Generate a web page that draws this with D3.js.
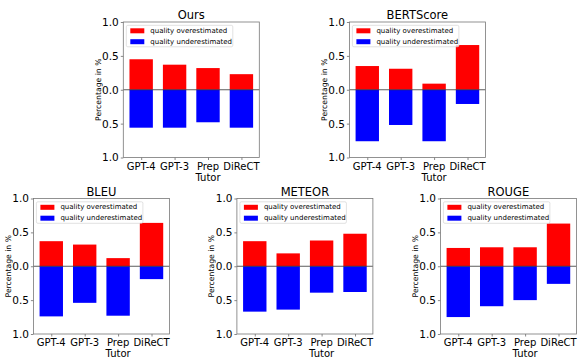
<!DOCTYPE html>
<html><head><meta charset="utf-8">
<script src="https://cdn.jsdelivr.net/npm/d3@7"></script>
<style>
html,body{margin:0;padding:0;background:#fff;}
svg{display:block;font-family:"DejaVu Sans",sans-serif;}
</style></head>
<body>
<svg id="chart" width="581" height="358"></svg>
<script>
const categories = ["GPT-4", "GPT-3", "Prep\nTutor", "DiReCT"];
const panelTitles = ["Ours", "BERTScore", "BLEU", "METEOR", "ROUGE"];
const oursOver = [0.45, 0.37, 0.32, 0.23];
const oursUnder = [0.56, 0.56, 0.48, 0.56];
const bertOver = [0.35, 0.31, 0.09, 0.66];
const bertUnder = [0.76, 0.52, 0.76, 0.21];
const bleuOver = [0.37, 0.32, 0.12, 0.64];
const bleuUnder = [0.74, 0.54, 0.73, 0.19];
const meteorOver = [0.37, 0.19, 0.38, 0.48];
const meteorUnder = [0.67, 0.64, 0.39, 0.38];
const rougeOver = [0.27, 0.28, 0.28, 0.63];
const rougeUnder = [0.75, 0.59, 0.50, 0.26];
const yTicks = [-1, -0.5, 0, 0.5, 1];
const legendLabels = ["quality overestimated", "quality underestimated"];
const seriesColors = ["#ff0000", "#0000ff"];
const yLabel = "Percentage in %";

const panels = [
  {title: panelTitles[0], over: oursOver, under: oursUnder, x: 123.3, y: 22},
  {title: panelTitles[1], over: bertOver, under: bertUnder, x: 349.4, y: 22},
  {title: panelTitles[2], over: bleuOver, under: bleuUnder, x: 33.4, y: 198.5},
  {title: panelTitles[3], over: meteorOver, under: meteorUnder, x: 236.9, y: 198.5},
  {title: panelTitles[4], over: rougeOver, under: rougeUnder, x: 440.4, y: 198.5}
];
const W = 136, H = 135.5, barW = 0.7;
const svg = d3.select("#chart");

panels.forEach(p => {
  const g = svg.append("g").attr("transform", `translate(${p.x},${p.y})`);
  const x = d3.scaleLinear().domain([-0.535, 3.535]).range([0, W]);
  const y = d3.scaleLinear().domain([-1, 1]).range([H, 0]);

  // bars
  g.selectAll("rect.over").data(p.over).join("rect")
    .attr("x", (d, i) => x(i - barW / 2)).attr("width", x(barW) - x(0))
    .attr("y", d => y(d)).attr("height", d => y(0) - y(d))
    .attr("fill", seriesColors[0]);
  g.selectAll("rect.under").data(p.under).join("rect")
    .attr("x", (d, i) => x(i - barW / 2)).attr("width", x(barW) - x(0))
    .attr("y", y(0)).attr("height", d => y(-d) - y(0))
    .attr("fill", seriesColors[1]);

  // zero line
  g.append("line").attr("x1", 0).attr("x2", W).attr("y1", y(0)).attr("y2", y(0))
    .attr("stroke", "#333").attr("stroke-width", 0.8);

  // y axis
  const ya = g.append("g").call(d3.axisLeft(y).tickValues(yTicks).tickSize(2.5).tickPadding(2)
    .tickFormat(d => Math.abs(d).toFixed(1)));
  ya.select(".domain").remove();
  ya.selectAll("line").attr("stroke", "#555").attr("stroke-width", 0.7);
  ya.selectAll("text").attr("font-size", 10.5).attr("fill", "#000")
    .attr("font-family", "DejaVu Sans");

  // x axis
  const xa = g.append("g").attr("transform", `translate(0,${H})`)
    .call(d3.axisBottom(x).tickValues(d3.range(categories.length)).tickSize(2.5).tickFormat(""));
  xa.select(".domain").remove();
  xa.selectAll("line").attr("stroke", "#555").attr("stroke-width", 0.7);
  categories.forEach((c, i) => {
    const t = g.append("text").attr("x", x(i)).attr("y", H + 12)
      .attr("text-anchor", "middle").attr("font-size", 10).attr("fill", "#000");
    c.split("\n").forEach((line, k) => {
      t.append("tspan").attr("x", x(i)).attr("dy", k === 0 ? 0 : 11).text(line);
    });
  });

  // frame
  g.append("rect").attr("x", 0).attr("y", 0).attr("width", W).attr("height", H)
    .attr("fill", "none").attr("stroke", "#777").attr("stroke-width", 0.8);

  // title
  g.append("text").attr("x", W / 2).attr("y", -3).attr("text-anchor", "middle")
    .attr("font-size", 11.5).attr("fill", "#000").text(p.title);

  // y label
  g.append("text").attr("transform", `translate(-25,${H / 2}) rotate(-90)`)
    .attr("text-anchor", "middle").attr("dominant-baseline", "central")
    .attr("font-size", 7.7).attr("fill", "#000").text(yLabel);

  // legend
  const lg = g.append("g").attr("transform", "translate(3,3.3)");
  lg.append("rect").attr("width", 106.5).attr("height", 21.5).attr("rx", 1.5)
    .attr("fill", "#fff").attr("fill-opacity", 0.8).attr("stroke", "#ccc").attr("stroke-width", 0.6);
  legendLabels.forEach((lab, k) => {
    const cy = 5.5 + k * 10.9;
    lg.append("rect").attr("x", 4).attr("y", cy - 2.5).attr("width", 14).attr("height", 5)
      .attr("fill", seriesColors[k]);
    lg.append("text").attr("x", 24).attr("y", cy).attr("dominant-baseline", "central")
      .attr("font-size", 7).attr("fill", "#000").text(lab);
  });
});
</script>
</body></html>
